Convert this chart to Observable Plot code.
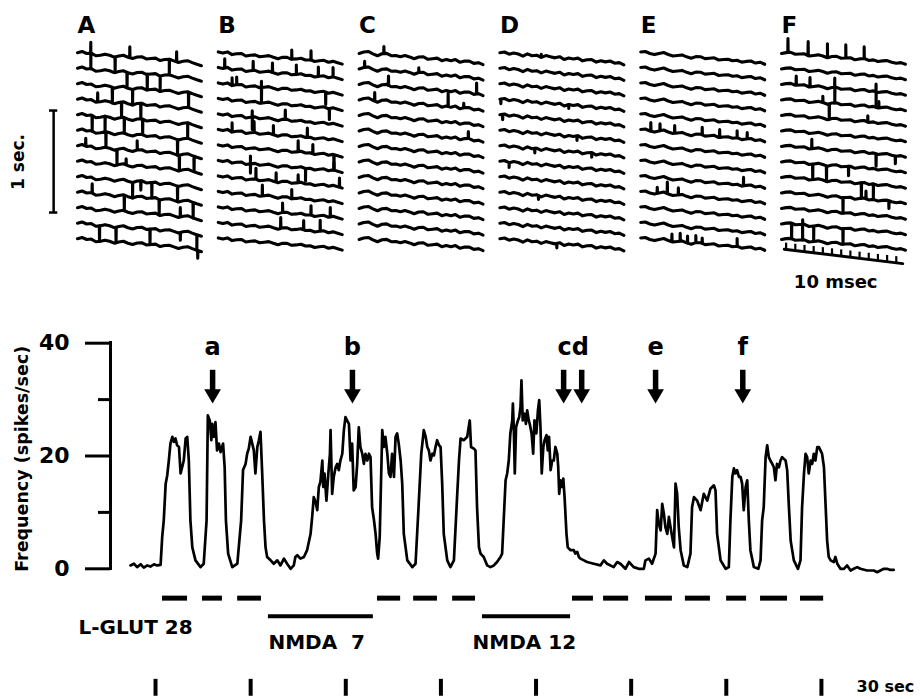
<!DOCTYPE html>
<html><head><meta charset="utf-8">
<script src="https://cdn.jsdelivr.net/npm/d3@7"></script>
<script src="https://cdn.jsdelivr.net/npm/@observablehq/plot@0.6"></script>
<style>
body{margin:0;background:#fff;}
#fig{width:920px;height:699px;position:relative;overflow:hidden;background:#fff}
#fig svg{display:block;background:#fff}
</style></head><body><div id="fig"></div>
<script>
// ---------- top: oscilloscope sweeps ----------
const panels = ["A","B","C","D","E","F"];
const sweepCount = 13;
const wiggleMs = [0,0.5,1,1.5,2,2.5,3,3.5,4,4.5,5,5.5,6,6.5,7,7.5,8,8.5,9,9.5,10,10.5,11,11.5,12,12.5,13,13.5];
const wiggleA = [0.05,0.15,0.05,0.1,-0.05,0,0.1,0.05,-0.05,0.05,0.12,0.02,-0.04,0.08,0.12,0.0,0.05,0.1,-0.03,0.06,0.1,0.02,-0.06,0.04,0.1,0.0,-0.08,-0.15];
const wiggleB = [0.1,0.05,0.15,0.0,0.08,0.12,-0.02,0.05,0.1,0.0,0.06,0.12,0.04,-0.03,0.08,0.1,0.0,0.05,0.12,0.03,0.07,-0.02,0.05,0.1,0.0,0.08,0.02,-0.05];
const wiggleC = [0.0,0.12,0.18,0.05,-0.05,0.1,0.15,0.02,0.06,0.0,0.1,0.04,-0.06,0.08,0.12,-0.02,0.04,0.1,-0.04,0.06,0.0,0.1,-0.05,0.05,0.08,-0.05,0.02,-0.08];
const wiggleD = [0.05,0.12,0.0,0.1,0.06,-0.05,0.12,0.02,0.08,-0.04,0.1,0.05,0.0,0.1,-0.06,0.06,0.02,0.1,-0.05,0.04,0.08,-0.06,0.05,0.0,0.08,-0.04,0.02,-0.1];
const wiggleE = [0.1,0.15,0.05,0.0,0.1,0.18,0.08,0.0,0.06,0.12,0.02,-0.05,0.08,0.1,0.0,0.05,0.1,-0.02,0.04,0.08,0.0,0.06,-0.04,0.03,0.08,-0.03,0.05,-0.06];
const wiggleF = [0.0,0.08,0.12,0.02,0.06,0.1,-0.02,0.04,0.1,0.05,-0.04,0.06,0.1,0.0,0.04,0.08,-0.03,0.05,0.1,0.0,0.06,-0.02,0.04,0.08,0.0,-0.04,0.02,-0.06];
// spikes: [sweep, time (ms), amplitude in sweep spacings, + = up]
const spikesA = [[0,1.45,0.7],[0,1.45,-1],[0,4.1,-1],[0,5.7,0.7],[0,10.0,-1],[0,10.8,0.65],
 [1,5.4,-1],[1,7.6,-1],[1,9.0,-1],[2,3.8,-1],[2,6.0,-1],[2,12.1,-1],
 [3,2.2,0.6],[3,4.8,-1],[3,6.9,-1],[4,1.6,-1],[4,3.0,-1],[4,5.1,-1],[4,7.1,-1],[4,12.0,-1],
 [5,3.1,-1],[5,10.9,-1],[6,0.9,0.5],[6,4.3,-1],[6,6.5,0.6],[6,11.1,-1],[6,12.7,-1],[7,5.3,0.4],
 [8,6.0,-1],[8,6.9,-0.6],[8,8.1,-1],[8,10.9,-1],[9,1.6,0.6],[9,5.1,-1],[9,8.9,-1],[9,12.6,-1],
 [10,11.2,0.6],[11,2.4,-1],[11,4.2,-1],[11,7.9,-1],[11,11.2,-0.5],[11,13.0,-1],[12,13.1,-0.5]];
const spikesB = [[0,8.0,0.6],[0,10.1,0.6],
 [1,0.7,0.6],[1,3.8,0.6],[1,5.9,0.6],[1,8.5,0.6],[1,10.9,0.6],[1,12.5,0.6],
 [2,1.5,0.5],[2,2.0,0.5],[2,4.7,0.4],[2,4.7,-1],[2,11.7,-0.8],[3,12.1,-0.7],
 [4,3.7,0.4],[4,3.7,-0.8],[4,7.3,0.6],[5,1.5,0.6],[5,3.9,0.7],[5,6.0,0.6],[5,9.7,0.6],
 [6,8.7,0.7],[6,10.3,0.6],[6,12.6,-1],[7,3.5,0.5],[7,3.5,-0.6],[7,9.5,-0.8],[7,12.6,0.5],
 [8,4.1,0.7],[8,6.3,0.6],[8,8.7,0.5],[8,13.2,0.6],[9,4.8,0.7],[9,8.0,0.6],
 [10,7.0,0.6],[10,10.1,0.6],[10,12.2,0.6],[11,6.8,0.7],[11,9.3,0.6],[11,11.1,0.7]];
const spikesC = [[0,2.7,0.45],[1,0.6,0.4],[1,6.5,0.3],[2,3.2,0.6],[2,12.8,0.7],[3,1.7,0.55],[3,9.7,0.85],[3,11.4,0.3],[5,11.9,0.45]];
const spikesD = [[0,4.5,0.2],[3,0.1,-0.3],[3,7.5,-0.25],[4,0.3,-0.35],[5,8.4,-0.3],[6,3.8,-0.3],[6,10.0,-0.3],[7,1.0,-0.3],[9,4.2,-0.25],[12,6.2,-0.3]];
const spikesE = [[5,1.1,0.55],[5,2.1,0.45],[5,3.7,0.5],[5,6.7,0.5],[5,8.6,0.5],[5,10.5,0.45],[5,11.6,0.4],
 [8,11.2,0.55],[9,1.8,0.4],[9,2.9,0.75],[9,4.1,0.45],
 [12,3.4,0.5],[12,4.3,0.5],[12,5.1,0.45],[12,6.0,0.45],[12,6.7,0.35],[12,10.5,0.5]];
const spikesF = [[0,0.7,0.9],[0,2.9,0.9],[0,5.0,0.9],[0,7.0,0.85],[0,9.0,0.75],
 [2,1.6,0.6],[2,3.1,0.6],[2,5.8,0.6],[2,5.8,-1],[2,10.3,0.5],[2,10.3,-1],
 [3,4.5,0.4],[3,5.2,-1],[3,10.6,0.4],[4,9.4,0.4],[6,3.3,0.6],[6,10.3,-0.8],[6,12.4,-0.5],
 [7,3.4,-1],[7,4.9,-1],[7,7.3,-0.6],[8,8.7,-1],[8,10.0,-1],[9,6.7,-1],[9,9.2,0.5],[9,11.7,-0.5],
 [11,1.1,-1],[11,2.3,-1],[11,2.3,0.3],[11,3.5,-1],[11,6.7,-1]];
const msTicks = [0.5,1.5,2.5,3.5,4.5,5.5,6.5,7.5,8.5,9.5,10.5,11.5,12.5];
const scaleBarSec = [0, 1];

// ---------- bottom: frequency record ----------
const frequency = [[-7.9,0.6],[-6.8,0.9],[-5.8,0.3],[-4.7,0.8],[-3.7,0.2],[-2.6,0.6],[-1.6,0.4],[-0.5,0.8],[0.5,0.6],[1.6,0.7],
[2.1,5.6],[2.6,8.6],[3.2,15.1],[3.7,16.6],[4.2,19.2],[4.7,22.2],[5.3,23.4],[5.8,22.5],[6.3,23.1],[6.8,21.9],[7.4,21.6],[7.9,16.9],[8.4,18.0],[8.9,19.2],[9.5,23.1],[10.0,23.4],[10.5,19.2],[11.0,8.6],[11.6,3.8],[12.6,1.5],[14.2,0.3],[15.2,0.9],
[16.1,8.6],[16.5,27.2],[17.1,26.3],[17.6,22.8],[17.9,25.7],[18.4,23.4],[18.9,26.0],[19.4,21.0],[20.0,22.2],[20.5,20.7],[21.3,22.2],[21.8,18.0],[22.2,8.6],[22.9,2.7],[24.2,0.3],[25.8,0.9],
[27.0,8.6],[27.6,17.5],[28.4,18.6],[28.9,20.4],[29.4,21.3],[30.0,23.4],[30.5,22.2],[31.0,21.0],[31.5,16.9],[32.1,21.6],[32.6,22.8],[33.1,24.3],[33.6,17.5],[34.2,8.6],[34.7,3.8],[35.2,2.1],
[36.3,1.5],[37.3,0.9],[38.4,1.5],[39.4,0.6],[40.5,1.8],[41.5,0.9],[42.6,0.0],[43.6,0.6],[44.1,2.1],[44.7,2.4],[45.7,1.8],[46.8,2.1],
[47.8,3.3],[48.9,6.2],[49.4,9.2],[49.9,12.7],[50.5,11.8],[51.0,10.4],[51.5,14.5],[52.0,15.4],[52.6,19.2],[52.9,14.5],[53.3,16.9],[53.9,12.1],[54.5,16.9],[55.0,20.4],[55.2,24.6],[55.7,13.3],[56.2,16.3],[56.8,18.0],[57.3,18.6],[57.8,17.5],[58.3,19.2],[58.9,20.4],[59.4,24.6],[59.9,26.9],[60.4,26.3],[61.0,25.7],[61.5,19.2],[62.0,22.2],[62.5,13.9],[63.1,14.5],[63.6,18.6],[64.1,25.1],[64.6,21.6],[65.2,20.4],[65.7,18.6],[66.2,20.4],[66.8,19.2],[67.3,20.4],[67.8,19.8],[68.3,10.9],[68.9,8.6],[69.4,6.2],[69.9,2.7],[70.2,1.8],
[70.7,5.6],[71.2,17.5],[71.5,24.6],[72.0,21.6],[72.5,23.4],[73.1,20.4],[73.6,16.9],[74.1,16.3],[74.6,20.4],[75.2,16.3],[75.7,23.4],[76.2,24.0],[76.7,22.2],[77.3,19.2],[77.8,15.1],[78.3,6.2],[79.4,1.5],[81.0,0.3],[82.0,0.9],
[83.0,11.5],[83.8,20.4],[84.6,24.6],[85.2,23.4],[85.7,21.6],[86.2,21.0],[86.7,19.2],[87.3,20.4],[87.8,20.1],[88.3,21.6],[88.8,22.8],[89.4,21.9],[89.9,21.6],[90.4,15.1],[90.9,6.2],[92.0,1.5],[93.0,0.3],[94.1,1.5],
[95.1,12.7],[95.7,19.2],[96.2,23.1],[97.2,22.8],[98.3,23.4],[99.1,26.3],[99.5,21.6],[100.4,21.3],[100.9,21.0],[101.4,10.9],[102.0,3.8],[102.5,2.7],[103.5,2.1],[104.6,0.6],[105.6,0.3],[106.7,0.6],[107.7,1.2],[108.8,2.1],[109.3,2.7],
[109.8,8.6],[110.4,15.7],[110.9,16.9],[111.4,19.2],[111.9,24.0],[112.5,26.3],[112.7,29.3],[113.0,24.6],[113.3,16.9],[113.7,25.1],[114.3,26.3],[114.7,26.9],[115.1,28.7],[115.4,33.4],[115.8,26.3],[116.4,27.5],[116.8,25.7],[117.2,28.1],[117.7,26.3],[118.0,25.7],[118.6,24.0],[119.1,20.4],[119.5,26.3],[120.1,24.0],[120.6,28.1],[121.0,29.9],[121.4,25.1],[121.8,16.9],[122.3,21.6],[122.7,22.8],[123.3,23.7],[123.7,21.0],[124.1,23.4],[124.6,17.5],[125.1,19.2],[125.6,19.2],[126.1,21.6],[126.7,20.4],[127.0,18.0],[127.3,13.3],[127.7,15.7],[128.2,14.5],[128.6,16.0],[129.0,12.7],[129.6,6.2],[130.0,3.8],
[130.9,3.3],[131.9,3.3],[132.4,2.7],[133.0,3.0],[133.5,2.1],[134.0,1.8],[135.1,1.5],[136.1,1.2],[138.2,0.9],[140.3,0.6],[141.4,1.5],[142.4,0.9],[144.5,0.3],[145.6,1.2],[146.6,0.9],[148.2,0.0],[149.3,1.2],[150.8,0.3],[152.4,0.0],[154.0,0.0],[154.5,1.5],[155.6,1.8],[156.6,0.9],[157.7,2.7],
[158.2,10.4],[158.7,8.0],[159.3,6.8],[159.8,11.5],[160.3,9.8],[160.8,7.4],[161.4,6.2],[161.9,9.2],[162.4,7.4],[163.5,3.8],[164.0,15.1],[164.5,13.3],[165.0,7.4],[165.6,3.3],[166.6,0.6],[167.7,0.3],
[168.7,2.7],[169.2,10.9],[169.8,12.7],[170.8,12.1],[171.9,10.4],[172.9,13.3],[174.0,12.1],[175.0,14.2],[176.1,14.8],[176.6,13.9],[177.1,6.2],[178.2,1.5],[179.8,0.0],[180.8,0.3],
[181.3,8.6],[181.9,16.3],[182.4,17.8],[182.9,16.9],[183.4,17.5],[184.0,16.3],[184.5,16.3],[185.0,15.1],[185.5,10.4],[186.1,14.5],[186.6,15.7],[187.1,8.6],[187.6,3.3],[188.7,0.3],[190.1,0.0],
[190.8,1.5],[191.3,8.6],[191.8,10.9],[192.4,19.8],[192.9,21.9],[193.4,19.8],[193.9,19.2],[194.5,18.6],[195.0,18.0],[195.5,15.7],[196.0,18.6],[196.6,18.0],[197.1,19.2],[197.6,19.8],[198.7,19.2],[199.2,17.5],[199.7,11.5],[200.3,5.0],[201.3,1.5],[202.6,0.0],
[203.4,1.5],[203.9,10.9],[204.5,16.9],[205.0,20.4],[205.5,19.8],[206.0,16.9],[206.6,19.2],[207.1,18.6],[207.6,20.4],[208.1,19.2],[208.7,21.6],[209.2,21.6],[209.7,21.0],[210.2,20.4],[210.8,18.0],[211.3,11.5],[211.8,5.0],[212.3,2.1],[212.9,1.5],[213.9,1.2],[214.4,2.1],[215.0,0.9],[216.0,0.0],[217.1,0.0],[218.1,0.6],[219.2,-0.3],[220.2,0.0],[221.3,0.3],[222.3,0.0],[224.4,-0.3],[226.5,-0.3],[227.6,-0.6],[228.6,-0.3],[229.7,0.0],[230.7,0.0],[231.8,-0.2],[232.8,-0.2]];
const glutOn  = [2.2,14.8,25.9,70.0,81.4,93.7,131.5,141.3,154.5,167.1,180.1,190.8,203.4];
const glutOff = [10.1,21.1,33.4,77.3,88.9,100.9,138.1,149.2,163.0,175.0,186.4,199.3,210.7];
const nmdaOn  = [35.6,103.1];
const nmdaOff = [68.7,130.9];
const drugLabels = ["L-GLUT 28","NMDA\u00a0\u00a07","NMDA 12"];
const drugLabelTime = [-24.3,35.6,100.0];
const arrowTime = [18.0,62.1,128.7,134.4,157.7,185.2];
const arrowLabels = ["a","b","cd","e","f"];
const arrowLabelTime = [18.0,62.1,131.7,157.7,185.2];
const timeTicks = [0,30,60,90,120,150,180,210];
const freqTicks = [0,20,40];
const freqMinorTicks = [10,30];

// ---------- layout constants ----------
const PITCH = 15.34;   // ms between panel origins
const TILT = 0.047;    // sweep tilt (sweep spacings per ms)
const SWEEPS_PER_SEC = 6.58;
const FONT = "DejaVu Sans";

const wiggles = [wiggleA,wiggleB,wiggleC,wiggleD,wiggleE,wiggleF];
const spikes = [spikesA,spikesB,spikesC,spikesD,spikesE,spikesF];
const traceRows = [];
panels.forEach((p, i) => {
  const wig = wiggles[i];
  const wigAt = d3.scaleLinear(wiggleMs, wig);
  for (let s = 0; s < sweepCount; s++) {
    let pts = wiggleMs.map((t, k) => ({t, y: s + TILT * t - wig[k]}));
    spikes[i].filter(d => d[0] === s).forEach(([, t, a]) => {
      const base = s + TILT * t - wigAt(t);
      pts.push({t: t - 0.02, y: base}, {t, y: base - a}, {t: t + 0.02, y: base});
    });
    pts.sort((a, b) => a.t - b.t);
    pts.forEach(d => traceRows.push({key: p + s, x: i * PITCH + d.t, y: d.y}));
  }
});
const rulerBase = t => 12.6 + 0.0725 * t;
const F0 = 5 * PITCH;

const topPlot = Plot.plot({
  width: 920, height: 300, margin: 0,
  style: {fontFamily: FONT, fontWeight: "bold", background: "#fff", color: "#000"},
  x: {domain: [0, 13.4], range: [77, 200], axis: null},
  y: {domain: [0, 12], range: [53, 239], axis: null},
  marks: [
    Plot.line(traceRows, {x: "x", y: "y", z: "key", stroke: "#000", strokeWidth: 3.1, strokeLinejoin: "round", strokeLinecap: "round"}),
    Plot.text(panels, {x: (d, i) => i * PITCH, y: -1.35, text: d => d, textAnchor: "start", lineAnchor: "bottom", fontSize: 23, fontWeight: "bold", fill: "#000"}),
    Plot.ruleX([0], {x: -2.6, y1: 3.68 + scaleBarSec[0] * SWEEPS_PER_SEC, y2: 3.68 + scaleBarSec[1] * SWEEPS_PER_SEC, strokeWidth: 2.5, stroke: "#000"}),
    Plot.ruleY(scaleBarSec, {y: d => 3.68 + d * SWEEPS_PER_SEC, x1: -3.05, x2: -2.15, strokeWidth: 2.5, stroke: "#000"}),
    Plot.text(["1 sec."], {x: -6.4, y: 7.0, text: d => d, rotate: -90, fontSize: 17, fill: "#000"}),
    Plot.line([0.3, 13.2], {x: d => F0 + d, y: d => rulerBase(d), stroke: "#000", strokeWidth: 3}),
    Plot.ruleX(msTicks, {x: d => F0 + d, y1: d => rulerBase(d), y2: d => rulerBase(d) - 0.4, stroke: "#000", strokeWidth: 2.2}),
    Plot.text(["10 msec"], {x: F0 + 5.9, y: 15.1, text: d => d, lineAnchor: "bottom", fontSize: 18, fill: "#000"})
  ]
});

const bottomPlot = Plot.plot({
  width: 920, height: 399, marginLeft: 110, marginRight: 16, marginTop: 0, marginBottom: 0,
  style: {fontFamily: FONT, fontWeight: "bold", background: "#fff", color: "#000"},
  x: {domain: [-14.2, 236.2], range: [110, 904], axis: null},
  y: {domain: [0, 40], range: [268.3, 42.7]},
  marks: [
    Plot.ruleX([-14.2], {y1: -0.3, y2: 40.3, stroke: "#000", strokeWidth: 3}),
    Plot.axisY({ticks: freqTicks, tickSize: 25, tickPadding: 16, fontSize: 22, fontWeight: "bold", strokeWidth: 3, label: null, anchor: "left", fill: "#000", stroke: "#000"}),
    Plot.axisY({ticks: freqMinorTicks, tickSize: 12, tickFormat: () => "", strokeWidth: 3, label: null, anchor: "left", stroke: "#000"}),
    Plot.text(["Frequency (spikes/sec)"], {x: -41.9, y: 19.5, text: d => d, rotate: -90, fontSize: 17.5, fill: "#000"}),
    Plot.line(frequency, {x: d => d[0], y: d => d[1], stroke: "#000", strokeWidth: 2.7, strokeLinejoin: "round"}),
    Plot.ruleY(glutOn, {x1: d => d, x2: (d, i) => glutOff[i], y: -5.2, stroke: "#000", strokeWidth: 5}),
    Plot.ruleY(nmdaOn, {x1: d => d, x2: (d, i) => nmdaOff[i], y: -8.4, stroke: "#000", strokeWidth: 4}),
    Plot.text(drugLabels, {x: (d, i) => drugLabelTime[i], y: (d, i) => i === 0 ? -11.6 : -14.2, text: d => d, textAnchor: "start", lineAnchor: "bottom", fontSize: 20, fill: "#000"}),
    Plot.ruleX(arrowTime, {x: d => d, y1: 35.2, y2: 31.6, stroke: "#000", strokeWidth: 5.5}),
    Plot.dot(arrowTime, {x: d => d, y: 31.0, symbol: "triangle", rotate: 180, r: 6.2, fill: "#000", stroke: "none"}),
    Plot.text(arrowLabels, {x: (d, i) => arrowLabelTime[i], y: 37.9, text: d => d, lineAnchor: "bottom", fontSize: 24, fill: "#000"}),
    Plot.ruleX(timeTicks, {x: d => d, y1: -19.6, y2: -22.6, stroke: "#000", strokeWidth: 4}),
    Plot.text(["30 sec"], {x: 221.1, y: -21.9, text: d => d, textAnchor: "start", lineAnchor: "bottom", fontSize: 16, fill: "#000"})
  ]
});

const fig = document.getElementById("fig");
fig.appendChild(topPlot);
fig.appendChild(bottomPlot);
</script></body></html>
